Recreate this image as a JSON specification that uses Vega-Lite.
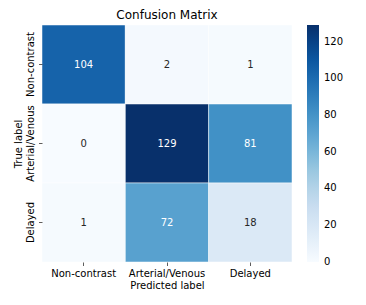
{
  "$schema": "https://vega.github.io/schema/vega-lite/v6.json",
  "width": 250,
  "height": 237,
  "autosize": "none",
  "padding": {"left": 42, "top": 25, "right": 74, "bottom": 43},
  "background": "white",
  "title": {"text": "Confusion Matrix", "fontSize": 12, "fontWeight": "normal", "font": "DejaVu Sans", "color": "black", "offset": 3},
  "config": {
    "view": {"stroke": null},
    "font": "DejaVu Sans",
    "axis": {"labelFont": "DejaVu Sans", "titleFont": "DejaVu Sans", "labelFontSize": 10, "titleFontSize": 10, "titleFontWeight": "normal", "labelColor": "black", "titleColor": "black", "domain": false, "tickColor": "#333333", "tickWidth": 0.8, "tickSize": 3.5, "grid": false},
    "legend": {"labelFont": "DejaVu Sans", "labelFontSize": 10, "labelColor": "black"}
  },
  "data": {"values": [
    {"true": "Non-contrast", "pred": "Non-contrast", "value": 104},
    {"true": "Non-contrast", "pred": "Arterial/Venous", "value": 2},
    {"true": "Non-contrast", "pred": "Delayed", "value": 1},
    {"true": "Arterial/Venous", "pred": "Non-contrast", "value": 0},
    {"true": "Arterial/Venous", "pred": "Arterial/Venous", "value": 129},
    {"true": "Arterial/Venous", "pred": "Delayed", "value": 81},
    {"true": "Delayed", "pred": "Non-contrast", "value": 1},
    {"true": "Delayed", "pred": "Arterial/Venous", "value": 72},
    {"true": "Delayed", "pred": "Delayed", "value": 18}
  ]},
  "encoding": {
    "x": {"field": "pred", "type": "nominal", "sort": ["Non-contrast", "Arterial/Venous", "Delayed"], "scale": {"paddingInner": 0, "paddingOuter": 0},
      "axis": {"title": "Predicted label", "labelAngle": 0, "labelPadding": 3, "titlePadding": 2}},
    "y": {"field": "true", "type": "nominal", "sort": ["Non-contrast", "Arterial/Venous", "Delayed"], "scale": {"paddingInner": 0, "paddingOuter": 0},
      "axis": {"title": "True label", "labelAngle": -90, "labelAlign": "center", "labelBaseline": "bottom", "labelPadding": 3, "titlePadding": 2}}
  },
  "layer": [
    {
      "mark": {"type": "rect", "stroke": "white", "strokeWidth": 0.5},
      "encoding": {
        "color": {"field": "value", "type": "quantitative",
          "scale": {"domain": [-0.05, 16.125, 32.25, 48.375, 64.5, 80.625, 96.75, 112.875, 129], "range": ["#f7fbff", "#deebf7", "#c6dbef", "#9ecae1", "#6baed6", "#4292c6", "#2171b5", "#08519c", "#08306b"], "interpolate": "rgb"},
          "legend": {"title": null, "orient": "none", "legendX": 265, "legendY": 0, "direction": "vertical", "gradientLength": 237, "gradientThickness": 12, "gradientStrokeWidth": 0, "values": [0, 20, 40, 60, 80, 100, 120], "labelOffset": 5, "labelBaseline": "middle"}}
      }
    },
    {
      "mark": {"type": "text", "fontSize": 10, "font": "DejaVu Sans"},
      "encoding": {
        "text": {"field": "value", "type": "quantitative"},
        "color": {"condition": {"test": "datum.value > 60", "value": "white"}, "value": "#262626"}
      }
    }
  ]
}
